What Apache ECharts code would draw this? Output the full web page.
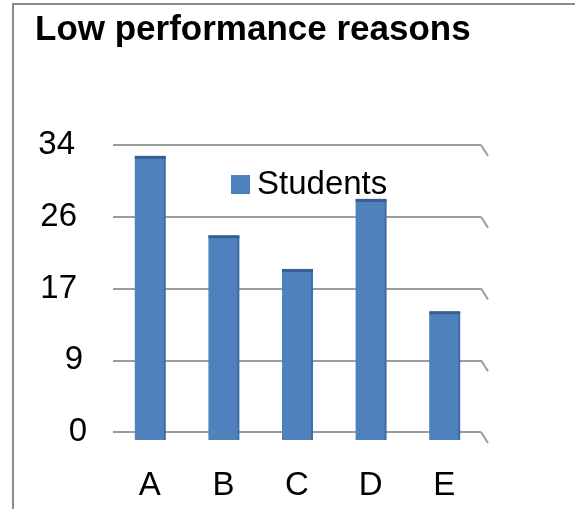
<!DOCTYPE html>
<html>
<head>
<meta charset="utf-8">
<script src="https://cdn.jsdelivr.net/npm/echarts@6/dist/echarts.min.js"></script>
<style>
html,body{margin:0;padding:0;background:#fff;}
#chart{width:575px;height:509px;}
</style>
</head>
<body>
<div id="chart"></div>
<script>
const categories = ['A', 'B', 'C', 'D', 'E'];
const students = [32.6, 23.2, 19.2, 27.5, 14.2];
const yTicks = [0, 8.5, 17, 25.5, 34];
const seriesName = 'Students';
const titleText = 'Low performance reasons';

const FONT = '"Liberation Sans", Arial, sans-serif';
const chart = echarts.init(document.getElementById('chart'), null, {renderer: 'canvas'});

const tickKeys = ['t0', 't1', 't2', 't3', 't4'];
const tickPad = [0, 4, 10, 10, 12];
const rich = {};
tickKeys.forEach((k, i) => {
  rich[k] = {fontFamily: FONT, fontSize: 33, color: '#000', padding: [0, tickPad[i], 0, 0]};
});

const option = {
  backgroundColor: '#fff',
  animation: false,
  title: {
    text: titleText,
    left: 30,
    top: 8,
    textStyle: {fontFamily: FONT, fontSize: 35, fontWeight: 'bold', color: '#000'}
  },
  legend: {
    data: [seriesName],
    left: 226,
    top: 163,
    icon: 'rect',
    itemWidth: 19,
    itemHeight: 19,
    textStyle: {fontFamily: FONT, fontSize: 33, color: '#000', padding: [0, 0, 0, 2]}
  },
  grid: {left: 113, right: 94, top: 145, bottom: 77},
  xAxis: {
    type: 'category',
    data: categories,
    axisLine: {show: false},
    axisTick: {show: false},
    axisLabel: {fontFamily: FONT, fontSize: 33, color: '#000', margin: 37}
  },
  yAxis: {
    type: 'value',
    min: 0,
    max: 34,
    interval: 8.5,
    axisLine: {show: false},
    axisTick: {show: false},
    axisLabel: {
      margin: 26,
      formatter: function (v) {
        const i = yTicks.indexOf(v);
        return '{' + tickKeys[i < 0 ? 0 : i] + '|' + Math.round(v) + '}';
      },
      rich: rich
    },
    splitLine: {lineStyle: {color: '#9c9c9c', width: 2}}
  },
  graphic: [{
    type: 'rect',
    shape: {x: 13, y: 4, width: 800, height: 800},
    style: {fill: 'none', stroke: '#8c8c8c', lineWidth: 2},
    silent: true
  }],
  series: [
    {
      name: seriesName,
      type: 'custom',
      itemStyle: {color: '#4f81bd'},
      data: students.map((v, i) => [i, v]),
      encode: {x: 0, y: 1},
      renderItem: function (params, api) {
        const top = api.coord([api.value(0), api.value(1)]);
        const base = api.coord([api.value(0), 0]);
        const w = 30;
        const x0 = top[0] - w / 2;
        const bottom = base[1] + 8;
        return {
          type: 'group',
          children: [
            {type: 'rect', shape: {x: x0, y: top[1], width: w, height: bottom - top[1]}, style: {fill: '#4f81bd'}},
            {type: 'rect', shape: {x: x0 + w - 1, y: top[1], width: 2, height: bottom - top[1]}, style: {fill: '#3f6da8'}},
            {type: 'rect', shape: {x: x0, y: top[1] - 1, width: w + 1, height: 3}, style: {fill: '#375f93'}}
          ]
        };
      }
    },
    {
      name: 'hooks',
      type: 'custom',
      silent: true,
      clip: false,
      data: yTicks.map(v => [categories.length - 1, v]),
      encode: {x: 0, y: 1},
      renderItem: function (params, api) {
        const p = api.coord([api.value(0), api.value(1)]);
        const half = api.size([1, 0])[0] / 2;
        return {
          type: 'line',
          shape: {x1: p[0] + half, y1: p[1], x2: p[0] + half + 7, y2: p[1] + 11},
          style: {stroke: '#9c9c9c', lineWidth: 2}
        };
      }
    }
  ]
};
chart.setOption(option);
</script>
</body>
</html>
